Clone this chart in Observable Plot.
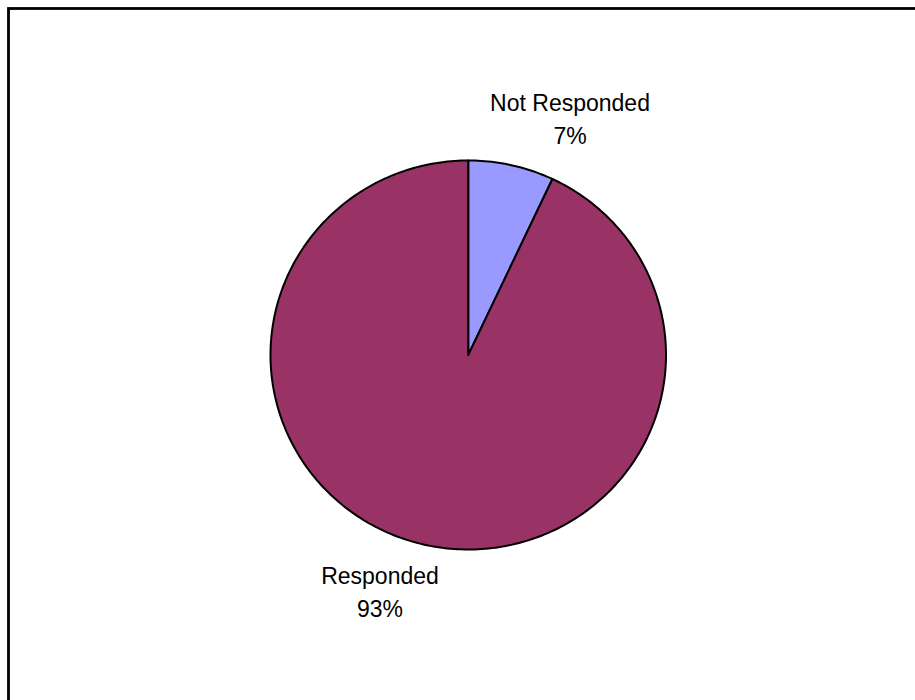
<!DOCTYPE html>
<html>
<head>
<meta charset="utf-8">
<script src="https://cdn.jsdelivr.net/npm/d3@7"></script>
<script src="https://cdn.jsdelivr.net/npm/@observablehq/plot@0.6"></script>
<style>
  html, body { margin: 0; padding: 0; background: white; overflow: hidden; }
</style>
</head>
<body>
<div id="chart"></div>
<script>
const categories = ["Not Responded", "Responded"];
const values = [7, 93];
const percentLabels = ["7%", "93%"];
const colors = ["#9999FF", "#993366"];

const slices = d3.pie().sort(null).startAngle(0).endAngle(2 * Math.PI)(values)
  .map((a, i) => ({...a, name: categories[i], label: categories[i] + "\n" + percentLabels[i]}));

// polygon vertices for each wedge, derived from the pie angles
const wedgePoints = [];
for (const s of slices) {
  const n = Math.max(2, Math.ceil((s.endAngle - s.startAngle) / (Math.PI / 180)));
  wedgePoints.push({name: s.name, x: 0, y: 0});
  for (let k = 0; k <= n; k++) {
    const a = s.startAngle + (s.endAngle - s.startAngle) * k / n;
    wedgePoints.push({name: s.name, x: Math.sin(a), y: Math.cos(a)});
  }
  wedgePoints.push({name: s.name, x: 0, y: 0});
}

const labelK = 1.2;
const labelData = slices.map(s => {
  const m = (s.startAngle + s.endAngle) / 2;
  return {name: s.name, label: s.label, x: labelK * Math.sin(m), y: labelK * Math.cos(m)};
});

const textStyle = {
  text: "label",
  fontFamily: "'Liberation Sans', Arial, sans-serif",
  fontSize: 23,
  lineHeight: 1.41,
  lineAnchor: "middle",
  textAnchor: "middle",
  fill: "black"
};

const chart = Plot.plot({
  width: 915,
  height: 700,
  marginTop: 8,
  marginLeft: 8,
  marginRight: 0,
  marginBottom: 0,
  style: {background: "white", overflow: "hidden"},
  x: {domain: [-1, 1], range: [270, 665.5], axis: null},
  y: {domain: [-1, 1], range: [549, 160], axis: null},
  color: {domain: categories, range: colors},
  marks: [
    Plot.frame({stroke: "black", strokeWidth: 2.8, insetRight: -30, insetBottom: -30}),
    Plot.line(wedgePoints, {
      x: "x", y: "y", z: "name", fill: "name",
      stroke: "black", strokeWidth: 2, strokeLinejoin: "round", curve: "linear-closed"
    }),
    Plot.text(labelData.filter(d => d.name === "Not Responded"), {...textStyle, x: "x", y: "y", dx: 50, dy: -10}),
    Plot.text(labelData.filter(d => d.name === "Responded"), {...textStyle, x: "x", y: "y", dx: -36.5, dy: 7.5})
  ]
});

document.getElementById("chart").appendChild(chart);
</script>
</body>
</html>
